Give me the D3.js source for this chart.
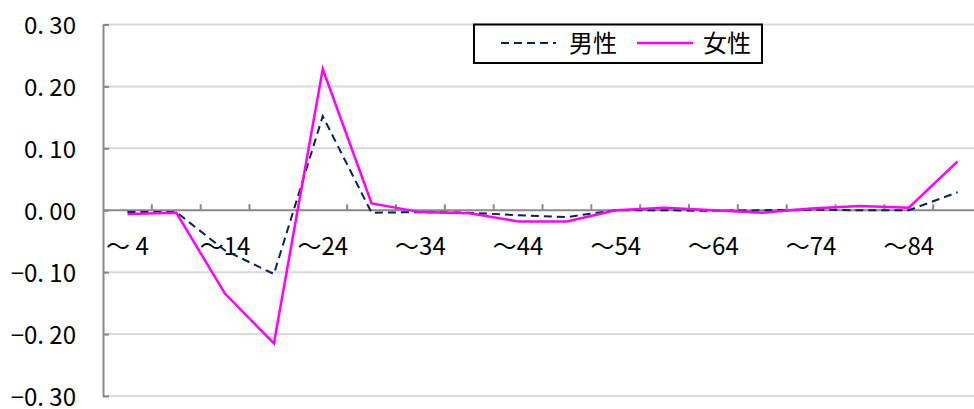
<!DOCTYPE html>
<html>
<head>
<meta charset="utf-8">
<script src="https://cdn.jsdelivr.net/npm/d3@7"></script>
<style>
  html, body { margin: 0; padding: 0; background: #fff; }
  svg { display: block; }
  text { font-family: "Noto Sans CJK JP", "Noto Sans", sans-serif; fill: #000; }
</style>
</head>
<body>
<svg id="chart" width="974" height="409"></svg>
<script>
// Age groups (5-year bins) and the labels printed under the zero line
const ageGroups = ["～ 4", "～ 9", "～14", "～19", "～24", "～29", "～34", "～39", "～44",
                   "～49", "～54", "～59", "～64", "～69", "～74", "～79", "～84", "85～"];
const shownLabels = ["～ 4", "～14", "～24", "～34", "～44", "～54", "～64", "～74", "～84"];

// Series values
const male   = [-0.003, -0.003, -0.065, -0.103, 0.152, -0.004, -0.003, -0.004, -0.008,
                -0.011, 0.000, 0.000, -0.001, 0.000, 0.001, 0.000, 0.000, 0.029];
const female = [-0.006, -0.004, -0.135, -0.215, 0.228, 0.011, -0.003, -0.005, -0.018,
                -0.018, 0.000, 0.004, 0.000, -0.004, 0.003, 0.007, 0.004, 0.079];

const yTicks = [-0.30, -0.20, -0.10, 0.00, 0.10, 0.20, 0.30];
const seriesNames = ["男性", "女性"];

const svg = d3.select("#chart");

const x = d3.scaleBand().domain(ageGroups).range([103, 982]).padding(0);
const y = d3.scaleLinear().domain([-0.3, 0.3]).range([396, 24.5]);
const cx = d => x(d) + x.bandwidth() / 2;

const fmt = v => {
  const s = d3.format(".2f")(Math.abs(v)).replace(".", ". ");
  return (v < 0 ? "−" : "") + s;
};

// horizontal gridlines
svg.append("g")
  .selectAll("line")
  .data(yTicks.filter(v => v !== 0))
  .join("line")
  .attr("x1", x.range()[0]).attr("x2", x.range()[1])
  .attr("y1", d => y(d)).attr("y2", d => y(d))
  .attr("stroke", "#d9d9d9").attr("stroke-width", 2);

// y axis with inward ticks
const yAxis = svg.append("g")
  .attr("transform", `translate(${x.range()[0]},0)`)
  .call(d3.axisLeft(y).tickValues(yTicks).tickFormat(fmt).tickSizeInner(-6).tickSizeOuter(0).tickPadding(27));
yAxis.select(".domain").attr("stroke", "#888").attr("stroke-width", 2);
yAxis.selectAll(".tick line").attr("stroke", "#888").attr("stroke-width", 2);
yAxis.selectAll(".tick text")
  .attr("font-size", 24)
  .attr("font-family", "'Noto Sans CJK JP', sans-serif")
  .attr("dy", "0.38em");

// zero line with upward ticks at category boundaries
const zeroY = y(0);
svg.append("line")
  .attr("x1", x.range()[0]).attr("x2", x.range()[1])
  .attr("y1", zeroY).attr("y2", zeroY)
  .attr("stroke", "#888").attr("stroke-width", 2);
svg.append("g")
  .selectAll("line")
  .data(ageGroups.slice(1))
  .join("line")
  .attr("x1", d => x(d)).attr("x2", d => x(d))
  .attr("y1", zeroY).attr("y2", zeroY - 6)
  .attr("stroke", "#888").attr("stroke-width", 2);

// category labels
const labelCats = ageGroups.filter(a => shownLabels.includes(a));
svg.append("g")
  .selectAll("text")
  .data(labelCats)
  .join("text")
  .attr("x", d => cx(d))
  .attr("y", 255)
  .attr("text-anchor", "middle")
  .attr("font-size", 24)
  .text(d => d);

// lines
const line = d3.line().x((d, i) => cx(ageGroups[i])).y(d => y(d));
svg.append("path")
  .datum(male)
  .attr("d", line)
  .attr("fill", "none")
  .attr("stroke", "#0b2257")
  .attr("stroke-width", 2)
  .attr("stroke-dasharray", "8,5");
svg.append("path")
  .datum(female)
  .attr("d", line)
  .attr("fill", "none")
  .attr("stroke", "#ff00ff")
  .attr("stroke-width", 2.5);

// legend
const lg = svg.append("g");
lg.append("rect")
  .attr("x", 474).attr("y", 24.5).attr("width", 288).attr("height", 38.5)
  .attr("fill", "#fff").attr("stroke", "#000").attr("stroke-width", 2);
lg.append("line")
  .attr("x1", 501).attr("x2", 556).attr("y1", 43).attr("y2", 43)
  .attr("stroke", "#0b2257").attr("stroke-width", 2).attr("stroke-dasharray", "8,5");
lg.append("text").attr("x", 569).attr("y", 43).attr("dy", "0.36em")
  .attr("font-size", 24).text(seriesNames[0]);
lg.append("line")
  .attr("x1", 637).attr("x2", 693).attr("y1", 43).attr("y2", 43)
  .attr("stroke", "#ff00ff").attr("stroke-width", 2.5);
lg.append("text").attr("x", 703).attr("y", 43).attr("dy", "0.36em")
  .attr("font-size", 24).text(seriesNames[1]);
</script>
</body>
</html>
